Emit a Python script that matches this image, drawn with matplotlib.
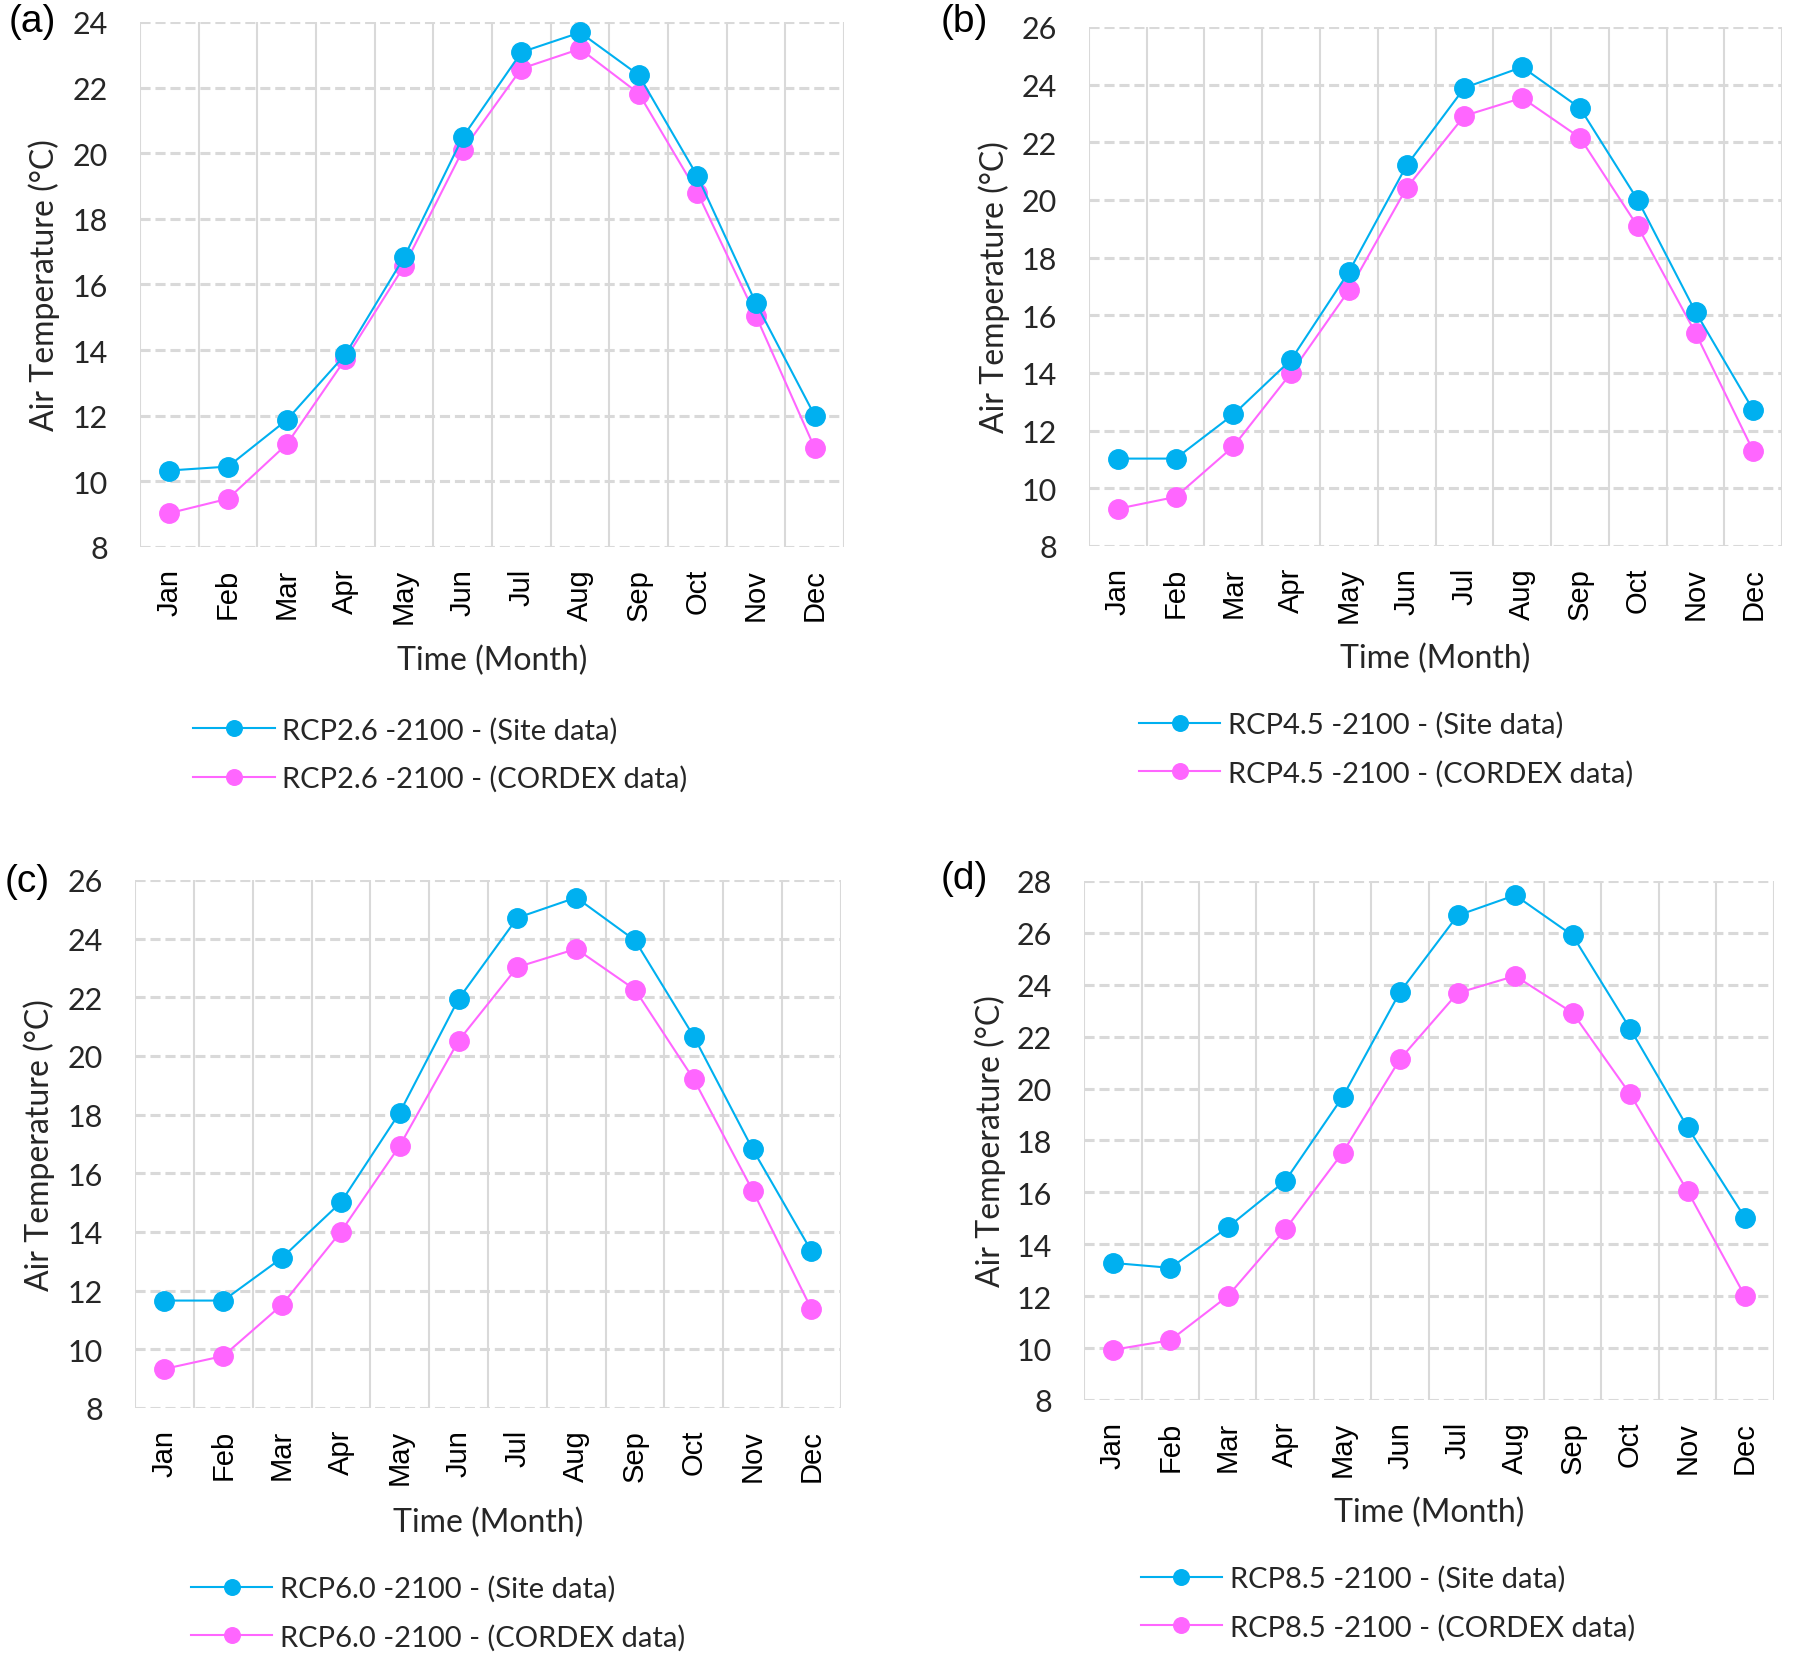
import matplotlib
matplotlib.use("Agg")
import matplotlib.pyplot as plt

months = ['Jan', 'Feb', 'Mar', 'Apr', 'May', 'Jun',
          'Jul', 'Aug', 'Sep', 'Oct', 'Nov', 'Dec']

# (a) RCP2.6
rcp26_site = [10.33, 10.45, 11.87, 13.87, 16.83, 20.49, 23.08, 23.68, 22.38, 19.30, 15.42, 12.00]
rcp26_cordex = [9.03, 9.47, 11.13, 13.73, 16.56, 20.09, 22.58, 23.18, 21.82, 18.80, 15.03, 11.01]
# (b) RCP4.5
rcp45_site = [11.03, 11.03, 12.56, 14.46, 17.51, 21.20, 23.89, 24.61, 23.19, 20.00, 16.12, 12.71]
rcp45_cordex = [9.29, 9.70, 11.45, 14.00, 16.86, 20.42, 22.92, 23.54, 22.16, 19.08, 15.39, 11.29]
# (c) RCP6.0
rcp60_site = [11.66, 11.66, 13.12, 15.01, 18.07, 21.94, 24.71, 25.40, 23.94, 20.66, 16.82, 13.34]
rcp60_cordex = [9.33, 9.77, 11.52, 14.01, 16.94, 20.52, 23.03, 23.65, 22.26, 19.20, 15.41, 11.37]
# (d) RCP8.5
rcp85_site = [13.28, 13.09, 14.65, 16.44, 19.68, 23.73, 26.67, 27.45, 25.90, 22.31, 18.51, 15.02]
rcp85_cordex = [9.93, 10.30, 12.00, 14.57, 17.53, 21.14, 23.68, 24.34, 22.92, 19.79, 16.05, 12.00]

scenarios = ['RCP2.6', 'RCP4.5', 'RCP6.0', 'RCP8.5']
panel_tags = ['(a)', '(b)', '(c)', '(d)']
y_tops = [24, 26, 26, 28]

site_color = '#00B0F0'
cordex_color = '#FF66FF'
grid_color = '#D9D9D9'
txt_color = '#262626'

fig = plt.figure(figsize=(17.96, 16.65), dpi=100)

# axes boxes in figure fractions
boxes = [
    [0.0780, 0.6709, 0.3920, 0.3153],
    [0.6063, 0.6715, 0.3860, 0.3117],
    [0.0752, 0.1538, 0.3930, 0.3171],
    [0.6036, 0.1586, 0.3840, 0.3117],
]
legend_anchor = [(0.075, -0.395), (0.072, -0.391), (0.079, -0.388), (0.082, -0.391)]
tag_pos = [(0.018, 0.987), (0.537, 0.987), (0.015, 0.470), (0.537, 0.472)]

series = [(rcp26_site, rcp26_cordex), (rcp45_site, rcp45_cordex),
          (rcp60_site, rcp60_cordex), (rcp85_site, rcp85_cordex)]

for i, (site, cordex) in enumerate(series):
    ax = fig.add_axes(boxes[i])
    x = list(range(len(months)))
    ax.plot(x, site, color=site_color, lw=1.5, marker='o', ms=14,
            label=f'{scenarios[i]} -2100 - (Site data)', zorder=4)
    ax.plot(x, cordex, color=cordex_color, lw=1.5, marker='o', ms=14,
            label=f'{scenarios[i]} -2100 - (CORDEX data)', zorder=3)

    ax.set_xlim(-0.5, 11.5)
    ax.set_ylim(8, y_tops[i])
    ax.set_yticks(range(8, y_tops[i] + 1, 2))
    ax.set_xticks(x)
    ax.set_xticklabels(months, rotation=90, fontsize=21,
                       family='Liberation Sans', color='black')
    ax.set_xticks([v - 0.5 for v in range(13)], minor=True)

    for lab in ax.get_yticklabels():
        lab.set_family('Lato')
        lab.set_fontsize(22)
        lab.set_color(txt_color)

    ax.tick_params(axis='both', which='both', length=0)
    ax.tick_params(axis='x', which='major', pad=15)
    ax.tick_params(axis='y', pad=23)

    ax.grid(True, axis='y', which='major', color=grid_color, lw=2.2,
            linestyle=(0, (3.3, 1.6)), zorder=1)
    ax.grid(True, axis='x', which='minor', color=grid_color, lw=1.5,
            linestyle='-', zorder=1)
    ax.grid(False, axis='x', which='major')
    for spine in ax.spines.values():
        spine.set_visible(False)

    ax.set_ylabel('Air Temperature (°C)', fontsize=23, family='Lato',
                  color=txt_color, va='center')
    ax.yaxis.set_label_coords(-0.136, 0.5)
    ax.set_xlabel('Time (Month)', fontsize=23, family='Lato',
                  color=txt_color, va='center')
    ax.xaxis.set_label_coords(0.5, -0.216)

    leg = ax.legend(loc='center left', bbox_to_anchor=legend_anchor[i],
                    frameon=False, handlelength=2.8, handletextpad=0.27,
                    borderpad=0, borderaxespad=0, labelspacing=0.75,
                    markerscale=0.8, prop={'family': 'Lato', 'size': 21})
    for t in leg.get_texts():
        t.set_color(txt_color)

    fig.text(tag_pos[i][0], tag_pos[i][1], panel_tags[i], fontsize=28,
             family='Liberation Sans', ha='center', va='center')

fig.savefig('out.png', dpi=100)
